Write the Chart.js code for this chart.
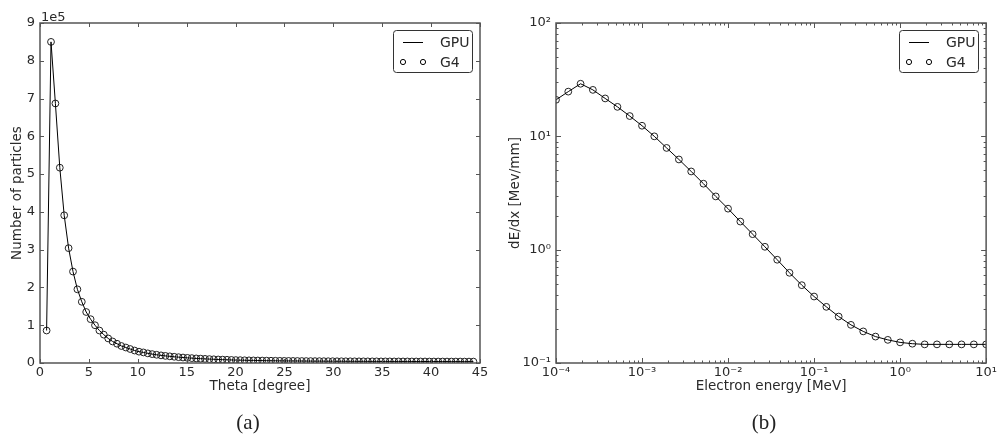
<!DOCTYPE html>
<html>
<head>
<meta charset="utf-8">
<script src="https://cdn.jsdelivr.net/npm/chart.js@4"></script>
<style>
    body { margin: 0; background: #fff; }
    #wrap { position: relative; width: 999px; height: 435px; overflow: hidden; }
    canvas { position: absolute; top: 0; }
    #thetaChart { left: 0; }
    #dedxChart { left: 500px; }
    .cap { position: absolute; top: 410px; line-height: 24px; font-family: "Liberation Serif", serif; font-size: 21px; color: #222; transform: translateX(-50%); }
</style>
</head>
<body>
<div id="wrap">
    <canvas id="thetaChart" width="500" height="435"></canvas>
    <canvas id="dedxChart" width="499" height="435"></canvas>
    <div class="cap" style="left:248px">(a)</div>
    <div class="cap" style="left:764px">(b)</div>
</div>
<script>
// (a) angular distribution, bin centres in degrees
const thetaDeg = [
    0.675, 1.125, 1.575, 2.025, 2.475, 2.925, 3.375, 3.825, 4.275, 4.725,
    5.175, 5.625, 6.075, 6.525, 6.975, 7.425, 7.875, 8.325, 8.775, 9.225,
    9.675, 10.125, 10.575, 11.025, 11.475, 11.925, 12.375, 12.825, 13.275, 13.725,
    14.175, 14.625, 15.075, 15.525, 15.975, 16.425, 16.875, 17.325, 17.775, 18.225,
    18.675, 19.125, 19.575, 20.025, 20.475, 20.925, 21.375, 21.825, 22.275, 22.725,
    23.175, 23.625, 24.075, 24.525, 24.975, 25.425, 25.875, 26.325, 26.775, 27.225,
    27.675, 28.125, 28.575, 29.025, 29.475, 29.925, 30.375, 30.825, 31.275, 31.725,
    32.175, 32.625, 33.075, 33.525, 33.975, 34.425, 34.875, 35.325, 35.775, 36.225,
    36.675, 37.125, 37.575, 38.025, 38.475, 38.925, 39.375, 39.825, 40.275, 40.725,
    41.175, 41.625, 42.075, 42.525, 42.975, 43.425, 43.875, 44.325
];
const gpuCounts = [
    86000, 850000, 687000, 517000, 391000, 304000, 242000, 195000, 162000, 135000,
    116000, 100000, 86000, 75000, 65000, 57000, 51000, 45000, 41000, 37000,
    33000, 30000, 28000, 25500, 23500, 21800, 20200, 18800, 17600, 16500,
    15400, 14500, 13600, 12900, 12100, 11500, 10900, 10300, 9800, 9300,
    8900, 8500, 8100, 7700, 7500, 7200, 7000, 6800, 6600, 6400,
    6200, 6000, 5900, 5700, 5600, 5500, 5400, 5300, 5200, 5100,
    5000, 4900, 4900, 4800, 4700, 4700, 4600, 4600, 4500, 4500,
    4400, 4400, 4400, 4300, 4300, 4300, 4200, 4200, 4200, 4100,
    4100, 4100, 4100, 4000, 4000, 4000, 4000, 3900, 3900, 3900,
    3900, 3800, 3800, 3800, 3800, 3700, 3700, 3700
];
// Geant4 reference agrees with the GPU code to within the marker size
const g4Counts = gpuCounts;

// (b) stopping power vs electron energy
const energyMeV = [
    1.000e-4, 1.389e-4, 1.931e-4, 2.683e-4, 3.728e-4, 5.179e-4, 7.197e-4,
    1.000e-3, 1.389e-3, 1.931e-3, 2.683e-3, 3.728e-3, 5.179e-3, 7.197e-3,
    1.000e-2, 1.389e-2, 1.931e-2, 2.683e-2, 3.728e-2, 5.179e-2, 7.197e-2,
    1.000e-1, 1.389e-1, 1.931e-1, 2.683e-1, 3.728e-1, 5.179e-1, 7.197e-1,
    1.000, 1.389, 1.931, 2.683, 3.728, 5.179, 7.197,
    10.0
];
const gpuDedx = [
    21.0, 24.8, 29.1, 25.7, 21.6, 18.2, 15.1,
    12.4, 10.0, 7.9, 6.25, 4.9, 3.82, 2.95,
    2.30, 1.77, 1.37, 1.06, 0.815, 0.625, 0.486,
    0.386, 0.313, 0.257, 0.217, 0.190, 0.171, 0.160,
    0.152, 0.148, 0.146, 0.146, 0.146, 0.146, 0.146,
    0.146
];
const g4Dedx = gpuDedx;

const thetaTicks = [0, 5, 10, 15, 20, 25, 30, 35, 40, 45];
const energyTicks = [1e-4, 1e-3, 1e-2, 1e-1, 1, 10];
const energyTickLabels = ['10\u207B\u2074', '10\u207B\u00B3', '10\u207B\u00B2', '10\u207B\u00B9', '10\u2070', '10\u00B9'];
const dedxTicks = [0.1, 1, 10, 100];
const dedxTickLabels = ['10\u207B\u00B9', '10\u2070', '10\u00B9', '10\u00B2'];

const axisColor = '#555';
const textColor = '#2a2a2a';
Chart.defaults.font.family = '"DejaVu Sans", sans-serif';
Chart.defaults.font.size = 13;
Chart.defaults.color = textColor;

function markList(scale) {
    if (scale.type === 'logarithmic') {
        const out = [];
        const e0 = Math.round(Math.log10(scale.min));
        const e1 = Math.round(Math.log10(scale.max));
        for (let e = e0; e < e1; e++) {
            for (let m = 1; m < 10; m++) out.push([m * Math.pow(10, e), m === 1 ? 5 : 2.5]);
        }
        out.push([scale.max, 5]);
        return out;
    }
    return scale.ticks.map(t => [t.value, 4]);
}

// matplotlib-like box: inward ticks on all four sides, legend in the corner
const framePlugin = {
    id: 'frame',
    afterDraw(chart, args, opts) {
        const {ctx, chartArea: a, scales: {x, y}} = chart;
        const seg = (x0, y0, x1, y1) => {
            ctx.beginPath(); ctx.moveTo(x0, y0); ctx.lineTo(x1, y1); ctx.stroke();
        };
        ctx.save();
        ctx.strokeStyle = axisColor;
        ctx.lineWidth = 1;
        markList(x).forEach(([v, len]) => {
            const px = Math.round(x.getPixelForValue(v)) + 0.5;
            seg(px, a.bottom, px, a.bottom - len);
            seg(px, a.top, px, a.top + len);
        });
        markList(y).forEach(([v, len]) => {
            const py = Math.round(y.getPixelForValue(v)) + 0.5;
            seg(a.left, py, a.left + len, py);
            seg(a.right, py, a.right - len, py);
        });
        ctx.lineWidth = 1.5;
        ctx.strokeRect(a.left, a.top, a.right - a.left, a.bottom - a.top);

        if (opts.offsetText) {
            ctx.fillStyle = textColor;
            ctx.font = '13px "DejaVu Sans"';
            ctx.textAlign = 'left';
            ctx.textBaseline = 'alphabetic';
            ctx.fillText(opts.offsetText, a.left + 1, a.top - 2);
        }

        // legend
        const bx = Math.round(a.right) - 87, by = Math.round(a.top) + 7;
        ctx.lineWidth = 1;
        ctx.strokeStyle = '#333';
        ctx.fillStyle = '#fff';
        ctx.beginPath();
        ctx.roundRect(bx + 0.5, by + 0.5, 79, 42, 3);
        ctx.fill();
        ctx.stroke();
        ctx.strokeStyle = '#000';
        seg(bx + 10, by + 12.5, bx + 30, by + 12.5);
        [bx + 10, bx + 30].forEach(cx => {
            ctx.beginPath(); ctx.arc(cx, by + 32, 2.6, 0, 2 * Math.PI); ctx.stroke();
        });
        ctx.fillStyle = textColor;
        ctx.font = '14px "DejaVu Sans"';
        ctx.textAlign = 'left';
        ctx.textBaseline = 'middle';
        const names = chart.data.datasets.map(d => d.label);
        ctx.fillText(names[0], bx + 47, by + 13);
        ctx.fillText(names[1], bx + 47, by + 33);
        ctx.restore();
    }
};

const lineStyle = {borderColor: '#000', borderWidth: 1, pointRadius: 0, tension: 0};
const markerStyle = {
    showLine: false, pointRadius: 3.4, pointBorderWidth: 1,
    pointBorderColor: '#222', pointBackgroundColor: 'rgba(0,0,0,0)'
};
const hidden = {grid: {display: false, drawTicks: false}, border: {display: false}};

new Chart(document.getElementById('thetaChart'), {
    type: 'line',
    data: {
        datasets: [{
            label: 'GPU',
            data: thetaDeg.map((t, i) => ({x: t, y: gpuCounts[i]})),
            ...lineStyle
        }, {
            label: 'G4',
            data: thetaDeg.map((t, i) => ({x: t, y: g4Counts[i]})),
            ...markerStyle
        }]
    },
    options: {
        responsive: false,
        animation: false,
        layout: {autoPadding: false, padding: {top: 23, right: 20, left: 0, bottom: 0}},
        scales: {
            x: {
                type: 'linear', min: 0, max: 45, ...hidden,
                afterFit: s => { s.height = 72; },
                afterBuildTicks: s => { s.ticks = thetaTicks.map(v => ({value: v})); },
                ticks: {padding: 2, maxRotation: 0, autoSkip: false},
                title: {display: true, text: 'Theta [degree]', padding: {bottom: 40}, font: {size: 13.5}}
            },
            y: {
                type: 'linear', min: 0, max: 900000, ...hidden,
                afterFit: s => { s.width = 40; },
                ticks: {stepSize: 100000, padding: 5, callback: v => String(Math.round(v / 100000))},
                title: {display: true, text: 'Number of particles', padding: {top: 9}, font: {size: 13.5}}
            }
        },
        plugins: {
            legend: {display: false},
            tooltip: {enabled: false},
            frame: {offsetText: '1e5'}
        }
    },
    plugins: [framePlugin]
});

new Chart(document.getElementById('dedxChart'), {
    type: 'line',
    data: {
        datasets: [{
            label: 'GPU',
            data: energyMeV.map((e, i) => ({x: e, y: gpuDedx[i]})),
            ...lineStyle
        }, {
            label: 'G4',
            data: energyMeV.map((e, i) => ({x: e, y: g4Dedx[i]})),
            ...markerStyle
        }]
    },
    options: {
        responsive: false,
        animation: false,
        layout: {autoPadding: false, padding: {top: 23, right: 3, left: 0, bottom: 0}},
        scales: {
            x: {
                type: 'logarithmic', min: 1e-4, max: 10, ...hidden,
                afterFit: s => { s.height = 72; },
                afterBuildTicks: s => { s.ticks = energyTicks.map(v => ({value: v})); },
                ticks: {padding: 2, maxRotation: 0, autoSkip: false, callback: (v, i) => energyTickLabels[i]},
                title: {display: true, text: 'Electron energy [MeV]', padding: {bottom: 40}, font: {size: 13.5}}
            },
            y: {
                type: 'logarithmic', min: 0.1, max: 100, ...hidden,
                afterFit: s => { s.width = 56; },
                afterBuildTicks: s => { s.ticks = dedxTicks.map(v => ({value: v})); },
                ticks: {padding: 5, autoSkip: false, callback: (v, i) => dedxTickLabels[i]},
                title: {display: true, text: 'dE/dx [Mev/mm]', padding: {top: 7}, font: {size: 13.5}}
            }
        },
        plugins: {
            legend: {display: false},
            tooltip: {enabled: false},
            frame: {}
        }
    },
    plugins: [framePlugin]
});
</script>
</body>
</html>
